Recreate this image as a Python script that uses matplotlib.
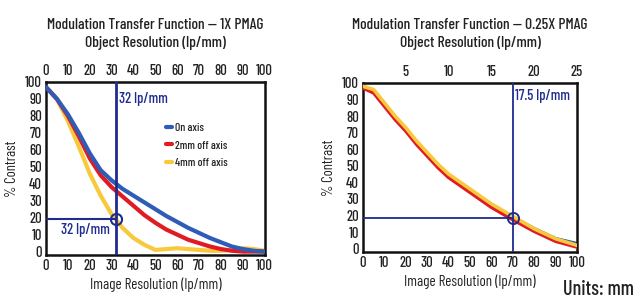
import matplotlib
matplotlib.use("Agg")
import matplotlib.pyplot as plt

plt.rcParams['font.family'] = ['Barlow Condensed', 'DejaVu Sans']
plt.rcParams['font.weight'] = 'medium'

# ---------------- data ----------------
x_left = [0, 5, 10, 15, 20, 25, 30, 35, 40, 45, 50, 55, 60, 65, 70, 75, 80, 85, 90, 95, 100]
on_axis_1x = [97, 90, 81, 70, 58, 48, 42, 37, 33, 29, 25, 21, 17.5, 14, 11, 8, 5.5, 3, 1.5, 0.5, 0]
off2_1x = [97, 90, 80, 68, 55, 45, 38, 32.5, 27, 21.5, 17, 13, 10, 7, 5, 3, 1.5, 0.5, 0, 0, 0]
off4_1x = [97, 90, 77, 62, 46, 33, 22, 14, 8, 4, 1, 1.5, 2, 1.5, 1, 0.5, 0.5, 1, 2, 1.5, 0.5]

x_right = [0, 5, 10, 15, 20, 25, 30, 35, 40, 50, 60, 70, 80, 90, 100]
on_axis_025x = [98, 95, 87, 79, 72, 64, 57, 50, 43.5, 35, 26.5, 19, 12, 6, 3]
off2_025x = [97, 94, 86, 78, 71, 63, 56, 49, 43, 34, 25, 17.5, 10.5, 4.5, 1]
off4_025x = [98, 96, 88, 80, 73, 65, 58, 51, 45, 36, 27, 19.5, 12, 6, 2]

series_labels = ["On axis", "2mm off axis", "4mm off axis"]
titles = ["Modulation Transfer Function \u2014 1X PMAG",
          "Modulation Transfer Function \u2014 0.25X PMAG"]
subtitle = "Object Resolution (lp/mm)"
xlabel = "Image Resolution (lp/mm)"
ylabel = "% Contrast"

mark_left = (32, 19)       # image lp/mm, % contrast
mark_right = (70, 18.5)
mark_left_text = "32 lp/mm"
mark_right_text = "17.5 lp/mm"
pmag_right = 0.25

ticks = [0, 10, 20, 30, 40, 50, 60, 70, 80, 90, 100]
top_ticks_right = [5, 10, 15, 20, 25]

# ---------------- style ----------------
BLUE = "#2f5cb6"
RED = "#e01b24"
YELLOW = "#f8c93a"
NAVY = "#1e2b8f"
TXT = "#222222"
FS = 10.5

fig = plt.figure(figsize=(6.36, 3.03), dpi=100)
axL = fig.add_axes([0.0723, 0.1584, 0.344, 0.571])
axR = fig.add_axes([0.5708, 0.1683, 0.3365, 0.5578])

def style(ax):
    ax.set_xlim(0, 100)
    ax.set_ylim(-2, 100)
    ax.set_xticks(ticks)
    ax.set_yticks(ticks)
    ax.tick_params(length=0, labelsize=FS, pad=3, labelcolor=TXT)
    for s in ax.spines.values():
        s.set_linewidth(1.8)
        s.set_color("#111111")
    ax.set_xlabel(xlabel, fontsize=FS + 0.3, labelpad=3, color=TXT)
    ax.set_ylabel(ylabel, fontsize=FS, labelpad=4, color=TXT)

def title(ax, t):
    pos = ax.get_position()
    cx = (pos.x0 + pos.x1) / 2
    fig.text(cx, 1 - 25 / 303, t, ha='center', va='center', fontsize=11.2, color=TXT)
    fig.text(cx, 1 - 43 / 303, subtitle, ha='center', va='center', fontsize=11.2, color=TXT)

# Left chart
style(axL)
lines = []
for ys, c, lab, z in [(off4_1x, YELLOW, series_labels[2], 2),
                      (off2_1x, RED, series_labels[1], 3),
                      (on_axis_1x, BLUE, series_labels[0], 4)]:
    ln, = axL.plot(x_left, ys, color=c, lw=3, solid_capstyle='round',
                   solid_joinstyle='round', zorder=z, label=lab)
    lines.append(ln)
axL.axvline(mark_left[0], color=NAVY, lw=2, zorder=5)
axL.plot([0, mark_left[0]], [mark_left[1], mark_left[1]], color=NAVY, lw=1.5, zorder=5)
axL.plot([mark_left[0]], [mark_left[1]], 'o', ms=8, mfc='none', mec=NAVY, mew=1.5, zorder=6)
axL.text(mark_left[0] + 1.5, 90, mark_left_text, color=NAVY, fontsize=FS,
         ha='left', va='center')
axL.text(18, 12.5, mark_left_text, color=NAVY, fontsize=FS, ha='center', va='center')
leg = axL.legend(handles=lines[::-1], loc='upper left', bbox_to_anchor=(0.52, 0.795),
                 frameon=False, fontsize=8.3, handlelength=0.6, handletextpad=0.2,
                 labelspacing=0.62, borderpad=0)
for t in leg.get_texts():
    t.set_color(TXT)
secL = axL.secondary_xaxis('top')
secL.set_xticks(ticks)
secL.tick_params(length=0, labelsize=FS, pad=3, labelcolor=TXT)
title(axL, titles[0])

# Right chart
style(axR)
for ys, c, z in [(on_axis_025x, BLUE, 2), (off2_025x, RED, 3), (off4_025x, YELLOW, 4)]:
    axR.plot(x_right, ys, color=c, lw=2.6, solid_capstyle='round',
             solid_joinstyle='round', zorder=z)
axR.axvline(mark_right[0], color=NAVY, lw=1.3, zorder=5)
axR.plot([0, mark_right[0]], [mark_right[1], mark_right[1]], color=NAVY, lw=1.3, zorder=5)
axR.plot([mark_right[0]], [mark_right[1]], 'o', ms=8, mfc='none', mec=NAVY, mew=1.4, zorder=6)
axR.text(mark_right[0] + 1.2, 92, mark_right_text, color=NAVY, fontsize=FS,
         ha='left', va='center')
secR = axR.secondary_xaxis('top', functions=(lambda v: v * pmag_right,
                                              lambda v: v / pmag_right))
secR.set_xticks(top_ticks_right)
secR.tick_params(length=0, labelsize=FS, pad=3, labelcolor=TXT)
title(axR, titles[1])

fig.text(0.997, 0.012, "Units: mm", ha='right', va='bottom', fontsize=14.5, color=TXT)

fig.savefig("out.png", dpi=100)
